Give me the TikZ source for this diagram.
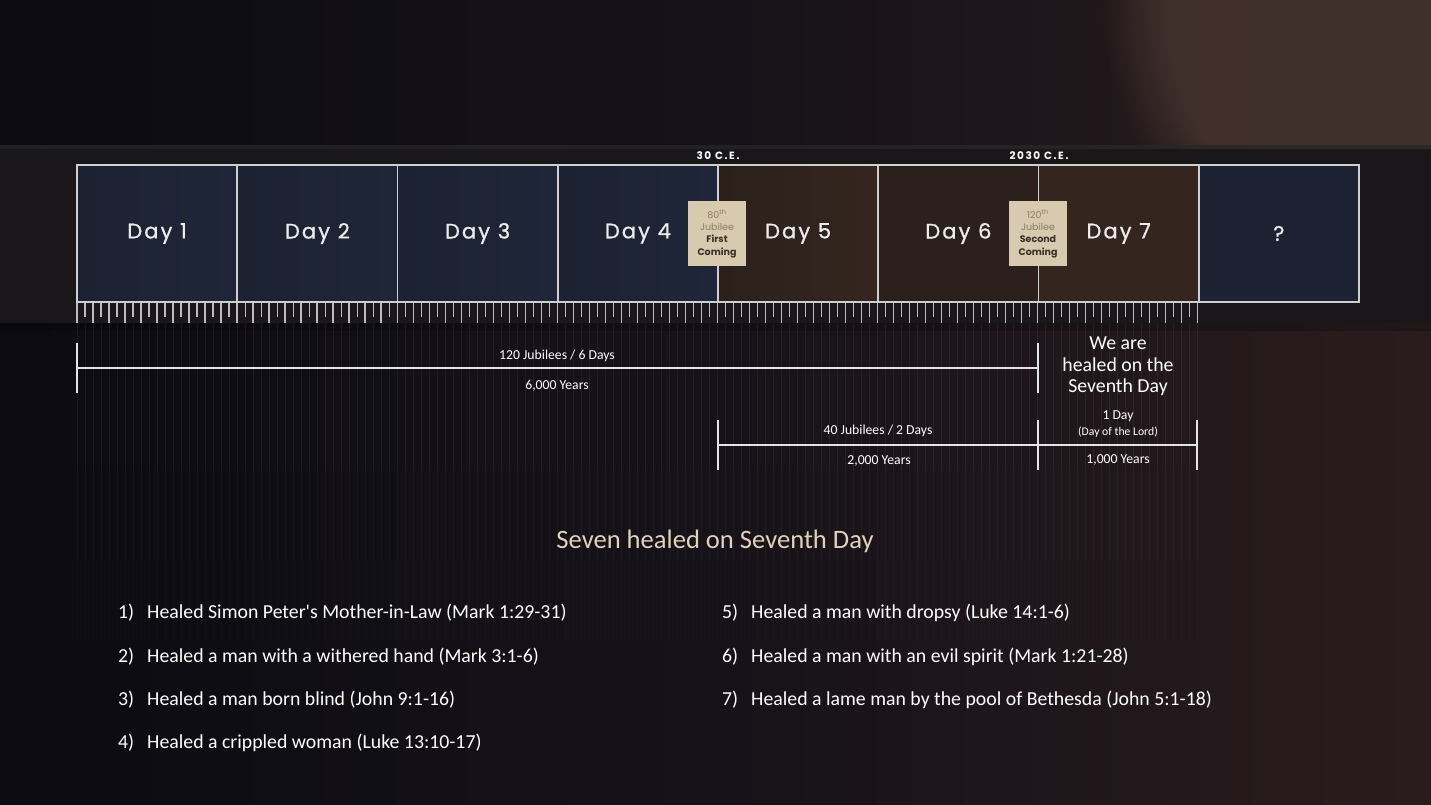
\documentclass[tikz,border=0pt]{standalone}
\usepackage{fontspec}
\setmainfont{Carlito}[Ligatures=TeXOff]
\newfontfamily\dayfont[LetterSpace=10,FakeBold=0.9]{Poppins}
\newfontfamily\cefont[LetterSpace=15]{Poppins}
\newfontfamily\jubfont{Poppins}
\usetikzlibrary{fadings}

\definecolor{bgleft}{HTML}{0C0B12}
\definecolor{bgmid}{HTML}{161219}
\definecolor{bgright}{HTML}{2A1C1D}
\definecolor{glow}{HTML}{45342E}
\definecolor{stripc}{HTML}{19171A}
\definecolor{navyA}{HTML}{1C2232}
\definecolor{navyB}{HTML}{1F2637}
\definecolor{brownA}{HTML}{2B201B}
\definecolor{brownB}{HTML}{34261F}
\definecolor{boxline}{HTML}{CFCFCF}
\definecolor{daytext}{HTML}{ECECEC}
\definecolor{jubfill}{HTML}{D8CAAF}
\definecolor{jubgray}{HTML}{8C7C68}
\definecolor{jubdark}{HTML}{3A3028}
\definecolor{spanc}{HTML}{E4E4E4}
\definecolor{titlec}{HTML}{E2D2BA}
\definecolor{tickc}{HTML}{BDBDBD}

\tikzset{
  daybox/.style={draw=boxline, line width=1.7pt, minimum width=160.25pt,
    minimum height=137pt, inner sep=0pt, text=daytext,
    font=\dayfont\fontsize{21}{25}\selectfont},
  jubbox/.style={fill=jubfill, minimum width=58pt, minimum height=65pt,
    inner sep=0pt, align=center, font=\jubfont\fontsize{9.5}{12.3}\selectfont},
  celabel/.style={text=white, inner sep=0pt, font=\cefont\bfseries\fontsize{10.5}{12}\selectfont},
  spanline/.style={draw=spanc, line width=2.6pt},
  spancap/.style={draw=spanc, line width=2.6pt},
  spanlabel/.style={text=white, inner sep=0pt, anchor=base, font=\fontsize{13.7}{16}\selectfont},
  smalllabel/.style={text=white, inner sep=0pt, anchor=base, font=\fontsize{11.7}{14}\selectfont},
  listnum/.style={text=white, inner sep=0pt, anchor=base west, font=\fontsize{19.8}{24}\selectfont},
  listitem/.style={text=white, inner sep=0pt, anchor=base west, font=\fontsize{19.8}{24}\selectfont},
}

\begin{document}
\begin{tikzpicture}[x=1pt,y=-1pt]
\useasboundingbox (0,0) rectangle (1431,805);

% backdrop
\shade[left color=bgleft, right color=bgright, middle color=bgmid] (0,0) rectangle (1431,805);
\fill[glow, opacity=0.85, path fading=circle with fuzzy edge 20 percent]
  (1431,0) circle[radius=330];

% timeline strip
\fill[black!85, opacity=0.8] (0,145) rectangle (1431,149);
\fill[stripc] (0,149) rectangle (1431,323);
\fill[black, opacity=0.2] (0,323) rectangle (1431,331);

% faint streaks below the ruler
\foreach \i in {0,...,140}{
  \pgfmathsetmacro{\xx}{77+8.005*\i}
  \draw[white, opacity=0.06, line width=1pt] (\xx,323) -- (\xx,470);
  \draw[white, opacity=0.035, line width=1pt] (\xx,470) -- (\xx,560);
  \draw[white, opacity=0.018, line width=1pt] (\xx,560) -- (\xx,640);
}

% ruler ticks
\foreach \i in {0,...,140}{
  \pgfmathsetmacro{\xx}{77+8.005*\i}
  \ifodd\i
    \draw[tickc, line width=1.2pt] (\xx,302) -- (\xx,317);
  \else
    \draw[tickc, line width=1.4pt] (\xx,302) -- (\xx,323);
  \fi
}

% day boxes
\node[daybox, left color=navyA, right color=navyB] (d1) at (157.1,233.5) {Day 1};
\node[daybox, left color=navyA, right color=navyB] (d2) at (317.4,233.5) {Day 2};
\node[daybox, left color=navyA, right color=navyB] (d3) at (477.6,233.5) {Day 3};
\node[daybox, left color=navyA, right color=navyB] (d4) at (637.9,233.5) {Day 4};
\node[daybox, left color=brownA, right color=brownB] (d5) at (798.1,233.5) {Day 5};
\node[daybox, left color=brownA, right color=brownA] (d6) at (958.4,233.5) {Day 6};
\node[daybox, left color=brownB, right color=brownB] (d7) at (1118.6,233.5) {Day 7};
\node[daybox, left color=navyA, right color=navyA] (d8) at (1278.9,233.5) {?};

% jubilee markers
\node[jubbox] (j80) at (717,233.5)
  {{\color{jubgray}80\textsuperscript{th}}\\{\color{jubgray}Jubilee}\\{\color{jubdark}\bfseries First}\\{\color{jubdark}\bfseries Coming}};
\node[jubbox] (j120) at (1038,233.5)
  {{\color{jubgray}120\textsuperscript{th}}\\{\color{jubgray}Jubilee}\\{\color{jubdark}\bfseries Second}\\{\color{jubdark}\bfseries Coming}};

\node[celabel] (ce30) at (718,156) {30 C.E.};
\node[celabel] (ce2030) at (1039,156) {2030 C.E.};

% spans
\coordinate (s1a) at (77,368);
\coordinate (s1b) at (1038,368);
\draw[spanline] (s1a) -- (s1b);
\draw[spancap] ([yshift=25pt]s1a) -- ([yshift=-25pt]s1a);
\draw[spancap] ([yshift=25pt]s1b) -- ([yshift=-25pt]s1b);
\node[spanlabel] (s1top) at (557,359.5) {120 Jubilees / 6 Days};
\node[spanlabel] (s1bot) at (557,389.5) {6,000 Years};

\coordinate (s2a) at (718,445);
\coordinate (s2b) at (1038,445);
\coordinate (s3b) at (1197,445);
\draw[spanline] (s2a) -- (s2b) -- (s3b);
\draw[spancap] ([yshift=25pt]s2a) -- ([yshift=-25pt]s2a);
\draw[spancap] ([yshift=25pt]s2b) -- ([yshift=-25pt]s2b);
\draw[spancap] ([yshift=25pt]s3b) -- ([yshift=-25pt]s3b);
\node[spanlabel] (s2top) at (878,434.5) {40 Jubilees / 2 Days};
\node[spanlabel] (s2bot) at (879,464.5) {2,000 Years};
\node[spanlabel] (s3top) at (1118,419.5) {1 Day};
\node[smalllabel] (s3mid) at (1118,435) {(Day of the Lord)};
\node[spanlabel] (s3bot) at (1118,463.5) {1,000 Years};

\node[text=white, inner sep=0pt, align=center, font=\fontsize{19.8}{21.5}\selectfont]
  (healed) at (1118,366.5) {We are\\healed on the\\Seventh Day};

% list of healings
\node[text=titlec, inner sep=0pt, anchor=base, font=\fontsize{26.6}{30}\selectfont]
  (title) at (715,548) {Seven healed on Seventh Day};

\node[listnum] (n1) at (118,618) {1)};
\node[listitem] (t1) at (147,618) {Healed Simon Peter's Mother-in-Law (Mark 1:29-31)};
\node[listnum] (n2) at (118,662) {2)};
\node[listitem] (t2) at (147,662) {Healed a man with a withered hand (Mark 3:1-6)};
\node[listnum] (n3) at (118,705) {3)};
\node[listitem] (t3) at (147,705) {Healed a man born blind (John 9:1-16)};
\node[listnum] (n4) at (118,748) {4)};
\node[listitem] (t4) at (147,748) {Healed a crippled woman (Luke 13:10-17)};

\node[listnum] (n5) at (722,618) {5)};
\node[listitem] (t5) at (751,618) {Healed a man with dropsy (Luke 14:1-6)};
\node[listnum] (n6) at (722,662) {6)};
\node[listitem] (t6) at (751,662) {Healed a man with an evil spirit (Mark 1:21-28)};
\node[listnum] (n7) at (722,705) {7)};
\node[listitem] (t7) at (751,705) {Healed a lame man by the pool of Bethesda (John 5:1-18)};
\end{tikzpicture}
\end{document}
